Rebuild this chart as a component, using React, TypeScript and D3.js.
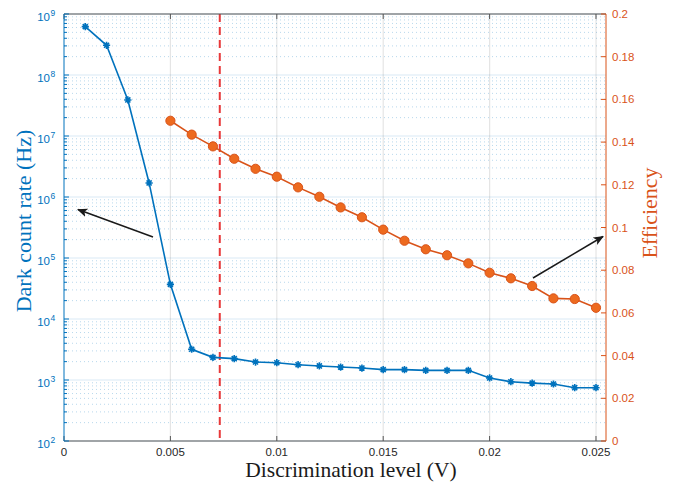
import * as d3 from "d3";
import React from "react";

// discrimination level (V)
const levelDark = [0.001, 0.002, 0.003, 0.004, 0.005, 0.006, 0.007, 0.008, 0.009, 0.01, 0.011, 0.012, 0.013,
  0.014, 0.015, 0.016, 0.017, 0.018, 0.019, 0.02, 0.021, 0.022, 0.023, 0.024, 0.025];
const darkCount = [6.2e8, 3.07e8, 3.9e7, 1.7e6, 3.7e4, 3190, 2350, 2240, 1970, 1920, 1780, 1700, 1630,
  1570, 1480, 1480, 1440, 1440, 1440, 1080, 937, 890, 860, 748, 748];

const levelEff = [0.005, 0.006, 0.007, 0.008, 0.009, 0.01, 0.011, 0.012, 0.013, 0.014, 0.015, 0.016, 0.017,
  0.018, 0.019, 0.02, 0.021, 0.022, 0.023, 0.024, 0.025];
const efficiency = [0.15, 0.1435, 0.138, 0.1322, 0.1275, 0.1238, 0.1188, 0.1144, 0.1094, 0.1048, 0.099, 0.0938,
  0.0898, 0.087, 0.0832, 0.0788, 0.0762, 0.0726, 0.0668, 0.0665, 0.0624];

const xTicks = [0, 0.005, 0.01, 0.015, 0.02, 0.025];
const xTickLabels = ["0", "0.005", "0.01", "0.015", "0.02", "0.025"];
const decades = [2, 3, 4, 5, 6, 7, 8, 9];
const effTicks = [0, 0.02, 0.04, 0.06, 0.08, 0.1, 0.12, 0.14, 0.16, 0.18, 0.2];
const effTickLabels = ["0", "0.02", "0.04", "0.06", "0.08", "0.1", "0.12", "0.14", "0.16", "0.18", "0.2"];
const threshold = 0.00732;

const W = 674, H = 487;
const margin = { top: 14, left: 64, right: 68, bottom: 46 };
const BLUE = "#0072BD";
const ORANGE = "#D95319";
const sans = "'Liberation Sans', Arial, Helvetica, sans-serif";
const serif = "'Liberation Serif', 'Times New Roman', serif";

export default function App() {
  const x = d3.scaleLinear().domain([0, 0.02547]).range([margin.left, W - margin.right]);
  const yL = d3.scaleLog().domain([1e2, 1e9]).range([H - margin.bottom, margin.top]);
  const yR = d3.scaleLinear().domain([0, 0.2]).range([H - margin.bottom, margin.top]);
  const x0 = margin.left, x1 = W - margin.right, yT = margin.top, yB = H - margin.bottom;

  const minor: number[] = [];
  decades.slice(0, -1).forEach((p) => {
    for (let m = 2; m <= 9; m++) minor.push(m * Math.pow(10, p));
  });

  const darkLine = d3.line<number>().x((_, i) => x(levelDark[i])).y((d) => yL(d));
  const effLine = d3.line<number>().x((_, i) => x(levelEff[i])).y((d) => yR(d));

  const star = (cx: number, cy: number, r: number) =>
    `M${cx - r},${cy}H${cx + r}M${cx},${cy - r}V${cy + r}` +
    `M${cx - r * 0.7},${cy - r * 0.7}L${cx + r * 0.7},${cy + r * 0.7}` +
    `M${cx - r * 0.7},${cy + r * 0.7}L${cx + r * 0.7},${cy - r * 0.7}`;

  return (
    <svg width={W} height={H} style={{ position: "absolute", left: 0, top: 0, background: "#fff" }}>
      <defs>
        <marker id="head" viewBox="0 0 10 10" refX="9" refY="5" markerWidth="7" markerHeight="7" orient="auto">
          <path d="M0,0.8L10,5L0,9.2L2.5,5Z" fill="#1a1a1a" />
        </marker>
      </defs>

      {/* minor grid (dotted) */}
      {minor.map((v, i) => (
        <line key={"mg" + i} x1={x0} x2={x1} y1={yL(v)} y2={yL(v)} stroke={BLUE}
          strokeOpacity={0.28} strokeDasharray="1,3" strokeWidth={1} />
      ))}
      {/* major grids */}
      {decades.map((p) => (
        <line key={"gy" + p} x1={x0} x2={x1} y1={yL(Math.pow(10, p))} y2={yL(Math.pow(10, p))}
          stroke={BLUE} strokeOpacity={0.15} strokeWidth={1.2} />
      ))}
      {xTicks.slice(1).map((v) => (
        <line key={"gx" + v} x1={x(v)} x2={x(v)} y1={yT} y2={yB} stroke="#262626" strokeOpacity={0.12} strokeWidth={1.2} />
      ))}

      {/* threshold */}
      <line x1={x(threshold)} x2={x(threshold)} y1={yT} y2={yB} stroke="#e8393a" strokeWidth={2} strokeDasharray="8,5" />

      {/* dark count rate */}
      <path d={darkLine(darkCount) || ""} fill="none" stroke={BLUE} strokeWidth={1.6} />
      {darkCount.map((v, i) => (
        <path key={"s" + i} d={star(x(levelDark[i]), yL(v), 3.6)} stroke={BLUE} strokeWidth={1.6} fill="none" />
      ))}

      {/* efficiency */}
      <path d={effLine(efficiency) || ""} fill="none" stroke={ORANGE} strokeWidth={1.6} />
      {efficiency.map((v, i) => (
        <circle key={"c" + i} cx={x(levelEff[i])} cy={yR(v)} r={4.6} fill="#ED6A1F" stroke={ORANGE} strokeWidth={1} />
      ))}

      {/* arrows */}
      <line x1={153} y1={237} x2={78} y2={209.5} stroke="#1a1a1a" strokeWidth={1.5} markerEnd="url(#head)" />
      <line x1={533} y1={278} x2={603} y2={236.5} stroke="#1a1a1a" strokeWidth={1.5} markerEnd="url(#head)" />

      {/* top & bottom axes */}
      <line x1={x0} x2={x1} y1={yT} y2={yT} stroke="#555" strokeWidth={1} />
      <line x1={x0} x2={x1} y1={yB} y2={yB} stroke="#555" strokeWidth={1} />
      {xTicks.map((v, i) => (
        <g key={"xt" + i}>
          <line x1={x(v)} x2={x(v)} y1={yT} y2={yT + 5} stroke="#555" />
          <line x1={x(v)} x2={x(v)} y1={yB} y2={yB - 5} stroke="#555" />
          <text x={x(v)} y={yB + 15} textAnchor="middle" fontFamily={sans} fontSize={11.5} fill="#262626">{xTickLabels[i]}</text>
        </g>
      ))}

      {/* left axis */}
      <line x1={x0} x2={x0} y1={yT} y2={yB} stroke={BLUE} strokeWidth={1} />
      {minor.map((v, i) => (
        <line key={"lm" + i} x1={x0} x2={x0 + 3} y1={yL(v)} y2={yL(v)} stroke={BLUE} />
      ))}
      {decades.map((p) => (
        <g key={"lt" + p}>
          <line x1={x0} x2={x0 + 5} y1={yL(Math.pow(10, p))} y2={yL(Math.pow(10, p))} stroke={BLUE} />
          <text x={50} y={yL(Math.pow(10, p)) + 7} textAnchor="end" fontFamily={sans} fontSize={11.5} fill={BLUE}>10</text>
          <text x={50.5} y={yL(Math.pow(10, p)) + 2} textAnchor="start" fontFamily={sans} fontSize={8.5} fill={BLUE}>{p}</text>
        </g>
      ))}
      <text transform={`translate(31,221) rotate(-90)`} textAnchor="middle" fontFamily={serif} fontSize={22} fill={BLUE}>
        Dark count rate (Hz)
      </text>

      {/* right axis */}
      <line x1={x1} x2={x1} y1={yT} y2={yB} stroke={ORANGE} strokeWidth={1} />
      {effTicks.map((v, i) => (
        <g key={"rt" + i}>
          <line x1={x1} x2={x1 - 5} y1={yR(v)} y2={yR(v)} stroke={ORANGE} />
          <text x={x1 + 6} y={yR(v) + 4} fontFamily={sans} fontSize={11.5} fill={ORANGE}>{effTickLabels[i]}</text>
        </g>
      ))}
      <text transform={`translate(657,213) rotate(-90)`} textAnchor="middle" fontFamily={serif} fontSize={22} fill={ORANGE}>
        Efficiency
      </text>

      {/* x title */}
      <text x={351} y={477} textAnchor="middle" fontFamily={serif} fontSize={21.5} fill="#1a1a1a">
        Discrimination level (V)
      </text>
    </svg>
  );
}
